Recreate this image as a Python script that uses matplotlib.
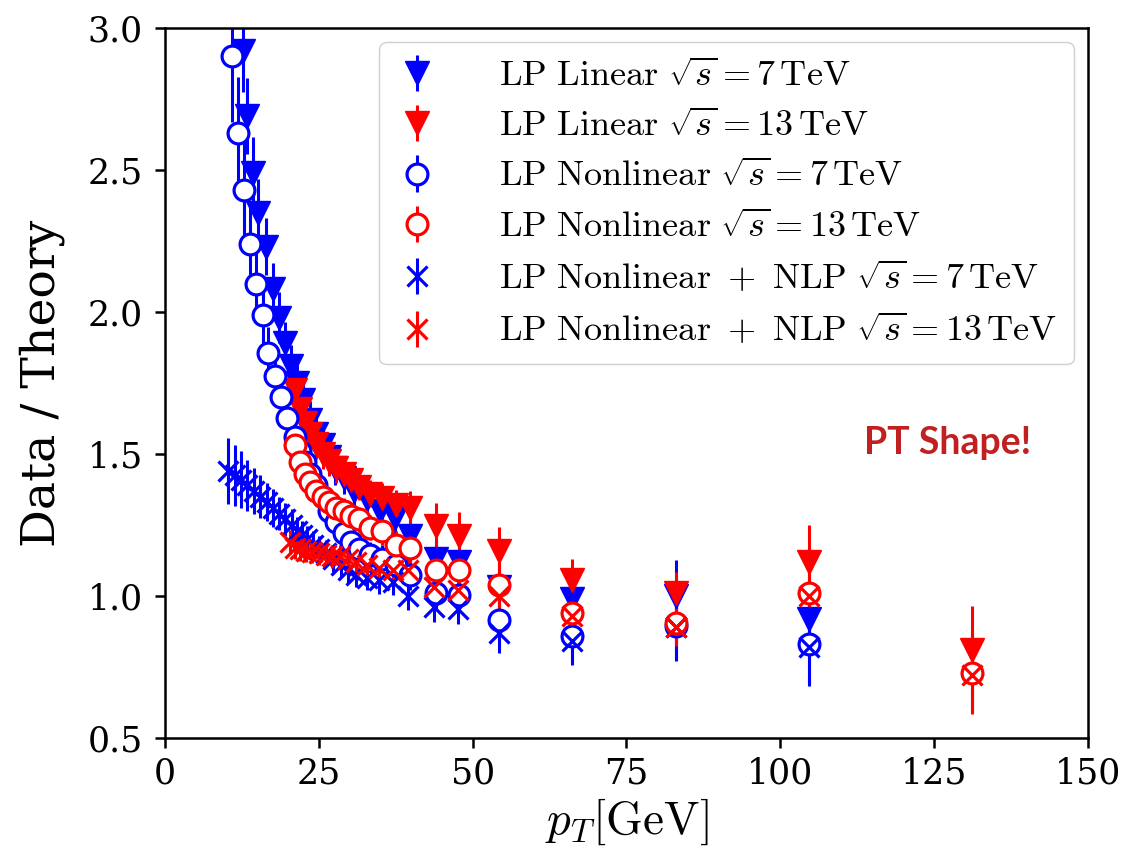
import numpy as np
import matplotlib
matplotlib.use("Agg")
import matplotlib.pyplot as plt

plt.rcParams['font.family'] = 'DejaVu Serif'
plt.rcParams['mathtext.fontset'] = 'cm'

# ---- 7 TeV (circles / crosses share bins) ----
pt7 = [10.9, 11.8, 12.9, 13.8, 14.8, 15.9, 16.8, 17.8, 18.8, 19.9, 21.1, 21.9, 22.7, 23.5, 24.5, 25.6,
       26.7, 27.8, 29.1, 30.3, 31.6, 33.4, 35.3, 37.5, 39.8, 44.0, 47.8, 54.3, 66.2, 83.0, 104.7]
rel7 = [0.08, 0.075, 0.07, 0.065, 0.06, 0.055, 0.05, 0.05, 0.045, 0.045, 0.045, 0.04, 0.04, 0.04, 0.04, 0.04,
        0.04, 0.04, 0.04, 0.04, 0.04, 0.04, 0.045, 0.045, 0.05, 0.055, 0.055, 0.08, 0.1, 0.135, 0.165]
nonlin7 = [2.90, 2.63, 2.43, 2.24, 2.10, 1.99, 1.855, 1.775, 1.70, 1.625, 1.56, 1.51, 1.47, 1.43, 1.39, 1.35,
           1.30, 1.26, 1.22, 1.19, 1.165, 1.145, 1.13, 1.11, 1.075, 1.01, 1.005, 0.915, 0.86, 0.895, 0.83]
nlp7 = [1.44, 1.425, 1.41, 1.39, 1.37, 1.35, 1.33, 1.31, 1.29, 1.27, 1.25, 1.23, 1.215, 1.20, 1.18, 1.165,
        1.15, 1.13, 1.11, 1.09, 1.075, 1.065, 1.055, 1.05, 1.0, 0.96, 0.955, 0.87, 0.84, 0.89, 0.82]
pt7_nlp = [10.2, 11.3, 12.4, 13.4, 14.4, 15.5, 16.5, 17.5, 18.5, 19.5, 20.6, 21.4, 22.2, 23.0, 24.0, 25.1,
           26.2, 27.3, 28.6, 29.8, 31.1, 32.9, 34.8, 37.0, 39.5, 43.8, 47.6, 54.3, 66.2, 83.0, 104.7]

# 7 TeV linear (triangles) sit on their own bins
pt7_lin = [11.7, 12.6, 13.4, 14.3, 15.1, 16.4, 17.5, 18.6, 19.5, 20.5, 21.5, 22.4, 23.5, 24.5, 25.6,
           26.6, 27.7, 29.1, 30.8, 32.8, 35.0, 37.4, 39.8, 44.0, 47.8, 54.3, 66.2, 83.0, 104.7]
lin7 = [3.2, 2.92, 2.69, 2.49, 2.35, 2.23, 2.08, 1.98, 1.89, 1.81, 1.75, 1.69, 1.62, 1.57, 1.53,
        1.49, 1.45, 1.415, 1.37, 1.34, 1.30, 1.275, 1.21, 1.13, 1.12, 1.03, 0.99, 1.00, 0.92]
rel7_lin = [0.06, 0.05, 0.05, 0.05, 0.05, 0.045, 0.045, 0.045, 0.04, 0.04, 0.04, 0.04, 0.04, 0.04, 0.04,
            0.04, 0.04, 0.04, 0.04, 0.04, 0.045, 0.045, 0.05, 0.055, 0.055, 0.08, 0.1, 0.125, 0.15]

# ---- 13 TeV ----
pt13 = [21.1, 21.9, 22.7, 23.5, 24.5, 25.6, 26.7, 27.8, 29.1, 30.3, 31.6, 33.4, 35.3, 37.5, 39.8,
        44.0, 47.8, 54.3, 66.2, 83.0, 104.7, 131.2]
pt13_nlp = [20.3, 21.2, 22.0, 22.9, 23.9, 25.0, 26.1, 27.2, 28.5, 29.8, 31.1, 32.9, 34.8, 37.0, 39.5,
            43.8, 47.6, 54.3, 66.2, 83.0, 104.7, 131.2]
rel13 = [0.035, 0.035, 0.035, 0.035, 0.035, 0.035, 0.035, 0.035, 0.035, 0.035, 0.035, 0.035, 0.04, 0.04, 0.045,
         0.065, 0.07, 0.07, 0.07, 0.075, 0.115, 0.19]
lin13 = [1.725, 1.66, 1.61, 1.57, 1.535, 1.50, 1.475, 1.45, 1.43, 1.41, 1.385, 1.36, 1.345, 1.32, 1.31,
         1.245, 1.21, 1.16, 1.056, 1.01, 1.12, 0.81]
nonlin13 = [1.53, 1.47, 1.43, 1.40, 1.37, 1.35, 1.33, 1.31, 1.30, 1.28, 1.27, 1.24, 1.23, 1.18, 1.17,
            1.09, 1.09, 1.04, 0.94, 0.905, 1.01, 0.73]
nlp13 = [1.19, 1.17, 1.165, 1.16, 1.155, 1.15, 1.145, 1.14, 1.14, 1.13, 1.12, 1.11, 1.10, 1.09, 1.09,
         1.03, 1.02, 1.00, 0.93, 0.89, 1.00, 0.72]

series = [
    (pt7_lin, lin7, rel7_lin, 'blue', 'v', r'$\mathrm{LP\ Linear}\ \sqrt{s}=7\,\mathrm{TeV}$'),
    (pt13, lin13, rel13, 'red', 'v', r'$\mathrm{LP\ Linear}\ \sqrt{s}=13\,\mathrm{TeV}$'),
    (pt7, nonlin7, rel7, 'blue', 'o', r'$\mathrm{LP\ Nonlinear}\ \sqrt{s}=7\,\mathrm{TeV}$'),
    (pt13, nonlin13, rel13, 'red', 'o', r'$\mathrm{LP\ Nonlinear}\ \sqrt{s}=13\,\mathrm{TeV}$'),
    (pt7_nlp, nlp7, rel7, 'blue', 'x', r'$\mathrm{LP\ Nonlinear\ +\ NLP}\ \sqrt{s}=7\,\mathrm{TeV}$'),
    (pt13_nlp, nlp13, rel13, 'red', 'x', r'$\mathrm{LP\ Nonlinear\ +\ NLP}\ \sqrt{s}=13\,\mathrm{TeV}$'),
]

fig = plt.figure(figsize=(11.3, 8.58), dpi=100)
ax = fig.add_axes([0.146, 0.1399, 0.8168, 0.8275])

for x, y, rel, c, m, lab in series:
    y = np.array(y)
    yerr = y * np.array(rel)
    if m == 'v':
        ax.errorbar(x, y, yerr=yerr, fmt='v', color=c, ms=17, elinewidth=2.2, label=lab)
    elif m == 'o':
        ax.errorbar(x, y, yerr=yerr, fmt='o', color=c, mfc='white', mec=c, mew=2.3, ms=15,
                    elinewidth=2.2, label=lab)
    else:
        ax.errorbar(x, y, yerr=yerr, fmt='x', color=c, mew=2.3, ms=14, elinewidth=2.2, label=lab)

ax.set_xlim(0, 150)
ax.set_ylim(0.5, 3.0)
ax.set_xticks([0, 25, 50, 75, 100, 125, 150])
ax.set_yticks([0.5, 1.0, 1.5, 2.0, 2.5, 3.0])
ax.tick_params(labelsize=25, length=7, width=1.8)
ax.tick_params(axis='y', pad=9)
ax.tick_params(axis='x', pad=6)
for s in ax.spines.values():
    s.set_linewidth(1.8)

ax.set_xlabel(r'$p_T[\mathrm{GeV}]$', fontsize=34, labelpad=5)
ax.set_ylabel('Data / Theory', fontsize=34, labelpad=16)

ax.text(0.848, 0.415, 'PT Shape!', transform=ax.transAxes, ha='center', va='center',
        fontsize=27, fontweight='bold', family='Lato', color='#C0201F')

ax.legend(loc='upper right', fontsize=26, handlelength=1.2, handletextpad=1.67, borderpad=0.45,
          labelspacing=0.45, framealpha=1, edgecolor='#d0d0d0', fancybox=True,
          borderaxespad=0.4)

fig.savefig('out.png', dpi=100)
